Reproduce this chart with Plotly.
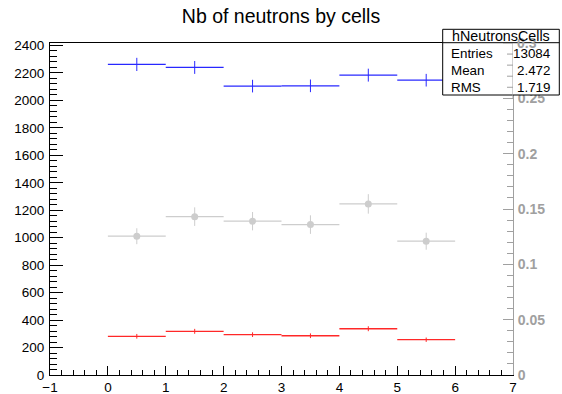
import plotly.graph_objects as go

# ---- data ----
bin_centers = [0.5, 1.5, 2.5, 3.5, 4.5, 5.5]
bin_half_width = [0.5, 0.5, 0.5, 0.5, 0.5, 0.5]
blue_vals = [2262, 2240, 2104, 2106, 2184, 2147]
blue_err = [48, 47, 46, 46, 47, 46]
red_vals = [282, 318, 294, 286, 337, 257]
red_err = [17, 18, 17, 17, 18, 16]
gray_vals = [0.1254, 0.1431, 0.1390, 0.1359, 0.1546, 0.1209]
gray_err = [0.0072, 0.0084, 0.0083, 0.0084, 0.0088, 0.0077]

stats_title = "hNeutronsCells"
stats_labels = ["Entries", "Mean", "RMS"]
stats_values = ["13084", "2.472", "1.719"]
title_text = "Nb of neutrons by cells"

FONT = "Liberation Sans"
W, H = 562, 394
L, R, T, B = 50, 49, 43, 19
PW, PH = W - L - R, H - T - B


def px_x(p):
    return (p - L) / PW


def px_y(p):
    return (H - B - p) / PH


fig = go.Figure()


def hist_trace(vals, errs, color, yaxis, marker_size=None):
    if marker_size:
        marker = dict(size=marker_size, color=color, symbol="circle")
    else:
        marker = dict(size=1, color="rgba(0,0,0,0)")
    return go.Scatter(
        x=bin_centers, y=vals, mode="markers", yaxis=yaxis,
        marker=marker,
        error_y=dict(type="data", array=errs, visible=True, color=color,
                     thickness=1, width=0),
        error_x=dict(type="data", array=bin_half_width, visible=True,
                     color=color, thickness=1.3, width=0),
        showlegend=False, hoverinfo="skip",
    )


fig.add_trace(hist_trace(blue_vals, blue_err, "rgb(40,40,255)", "y"))
fig.add_trace(hist_trace(red_vals, red_err, "rgb(255,40,40)", "y"))
fig.add_trace(hist_trace(gray_vals, gray_err, "rgb(205,205,205)", "y2",
                         marker_size=7))

GRAY_AX = "rgb(160,160,160)"

fig.update_layout(
    width=W, height=H,
    margin=dict(l=L, r=R, t=T, b=B, autoexpand=False),
    paper_bgcolor="white", plot_bgcolor="white",
    font=dict(family=FONT, color="black", size=13.5),
    title=dict(text=title_text, x=281 / W, xanchor="center", xref="container",
               y=1 - 16 / H, yanchor="middle", yref="container",
               font=dict(family=FONT, size=19.5, color="black")),
    xaxis=dict(range=[-1, 7], tickmode="linear", tick0=-1, dtick=1,
               ticks="inside", ticklen=9, tickcolor="black", tickwidth=1,
               showline=True, linecolor="black", linewidth=1, mirror=True,
               showgrid=False, zeroline=False, automargin=False,
               tickfont=dict(family=FONT, size=13.5, color="black"),
               minor=dict(ticks="inside", ticklen=5, dtick=0.2,
                          tickcolor="black", showgrid=False)),
    yaxis=dict(range=[0, 2418], tickmode="linear", tick0=0, dtick=200,
               ticks="inside", ticklen=13, tickcolor="black", tickwidth=1,
               showline=True, linecolor="black", linewidth=1,
               showgrid=False, zeroline=False, ticklabelstandoff=2,
               automargin=False,
               tickfont=dict(family=FONT, size=13.5, color="black"),
               minor=dict(ticks="inside", ticklen=7, dtick=40,
                          tickcolor="black", showgrid=False)),
    yaxis2=dict(range=[0, 0.3], overlaying="y", side="right",
                tickmode="linear", tick0=0, dtick=0.05,
                ticks="inside", ticklen=10, tickcolor=GRAY_AX, tickwidth=1,
                showline=True, linecolor=GRAY_AX, linewidth=1,
                showgrid=False, zeroline=False, ticklabelstandoff=1,
                automargin=False,
                tickfont=dict(family=FONT, size=14, color=GRAY_AX,
                              weight="bold"),
                minor=dict(ticks="inside", ticklen=6, dtick=0.01,
                           tickcolor=GRAY_AX, showgrid=False)),
)

# ---- stats box ----
bx0, bx1 = px_x(442.7), px_x(559.3)
by_top, by_bot = px_y(29.3), px_y(95)
shapes = [
    dict(type="rect", xref="paper", yref="paper", x0=bx0, x1=bx1,
         y0=by_bot, y1=by_top, line=dict(color="black", width=1),
         fillcolor="white", layer="above"),
    dict(type="line", xref="paper", yref="paper", x0=bx0, x1=bx1,
         y0=px_y(42.7), y1=px_y(42.7), line=dict(color="black", width=1),
         layer="above"),
    # right (gray) axis drawn over the stats box
    dict(type="line", xref="x", yref="y2", x0=7, x1=7, y0=0.25, y1=0.3,
         line=dict(color=GRAY_AX, width=1), layer="above"),
]
for v, ln in [(0.26, 6), (0.27, 6), (0.28, 6), (0.29, 6), (0.3, 10)]:
    shapes.append(dict(type="line", xref="x", yref="y2", xsizemode="pixel",
                       xanchor=7, x0=-ln, x1=0, y0=v, y1=v,
                       line=dict(color=GRAY_AX, width=1), layer="above"))
fig.update_layout(shapes=shapes)

annotations = [
    dict(text="0.3", xref="paper", yref="y2", x=1.0, y=0.3, xshift=2,
         xanchor="left", yanchor="middle", showarrow=False,
         font=dict(family=FONT, size=14, color=GRAY_AX, weight="bold")),
    dict(text=stats_title, xref="paper", yref="paper",
         x=(bx0 + bx1) / 2, y=px_y(35.7), xanchor="center", yanchor="middle",
         showarrow=False, font=dict(family=FONT, size=14.3, color="black")),
]
row_y = [53.3, 70.7, 87.3]
for lab, val, yy in zip(stats_labels, stats_values, row_y):
    annotations.append(dict(text=lab, xref="paper", yref="paper",
                            x=px_x(449.3), y=px_y(yy), xanchor="left",
                            yanchor="middle", showarrow=False,
                            font=dict(family=FONT, size=13.4, color="black")))
    annotations.append(dict(text=val, xref="paper", yref="paper",
                            x=px_x(553), y=px_y(yy), xanchor="right",
                            yanchor="middle", showarrow=False,
                            font=dict(family=FONT, size=13.4, color="black")))
fig.update_layout(annotations=annotations)

fig.write_html(
    "out.html",
    config={"displayModeBar": False, "staticPlot": True},
    post_script="document.body.style.margin='0';"
                "document.body.style.overflow='hidden';",
)
